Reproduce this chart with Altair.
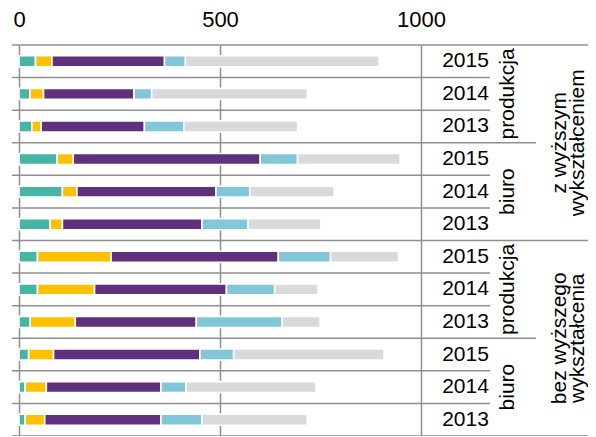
import altair as alt
import pandas as pd

# ---- data ----
edu_lines = [["z wyższym", "wykształceniem"], ["bez wyższego", "wykształcenia"]]
place = ["produkcja"] * 3 + ["biuro"] * 3 + ["produkcja"] * 3 + ["biuro"] * 3
years = ["2015", "2014", "2013"] * 4

seg_names = ["kat. 1", "kat. 2", "kat. 3", "kat. 4", "kat. 5"]
seg_colors = ["#47B5A6", "#FFC000", "#5F317C", "#82C7D9", "#D9D9D9"]

teal = [41, 27, 32, 95, 108, 77, 46, 46, 28, 24, 15, 15]
yellow = [41, 34, 23, 40, 36, 31, 183, 142, 112, 62, 53, 49]
purple = [280, 225, 257, 465, 346, 347, 416, 328, 301, 364, 285, 289]
lblue = [52, 44, 98, 93, 84, 115, 130, 120, 213, 84, 62, 102]
gray = [482, 387, 283, 255, 210, 181, 169, 108, 95, 374, 324, 262]
series = [teal, yellow, purple, lblue, gray]

tick_values = [0, 500, 1000]

# ---- layout constants ----
W, H = 569, 391
PX = 402 / 1000.0          # pixels per unit
XMAX = W / PX
def u(px):                 # pixel offset from the plot's left edge -> data units
    return px / PX

FONT = "Liberation Sans"

# ---- tables ----
rows = []
for r in range(12):
    start = 0
    for s, vals in enumerate(series):
        v = vals[r]
        rows.append({"row": r, "seg": seg_names[s], "idx": s,
                     "x0": start, "x1": start + v,
                     "y0": r + 0.33, "y1": r + 0.67})
        start += v
bars_df = pd.DataFrame(rows)

tot_df = pd.DataFrame({"row": list(range(12)),
                       "total": [sum(s[r] for s in series) for r in range(12)]})
tot_df["x0"] = 0
tot_df["y0"] = tot_df["row"] + 0.33
tot_df["y1"] = tot_df["row"] + 0.67

sep = []
for k in range(13):
    if k % 6 == 0:
        end = XMAX + 50
    elif k % 3 == 0:
        end = u(517)
    else:
        end = u(471)
    sep.append({"y": k, "xa": u(-7), "xb": end})
sep_df = pd.DataFrame(sep)

year_df = pd.DataFrame({"row": list(range(12)), "year": years})
year_df["y"] = year_df["row"] + 0.5
year_df["x"] = u(446.5)

place_df = pd.DataFrame({"label": [place[i] for i in (0, 3, 6, 9)],
                         "y": [1.5, 4.5, 7.5, 10.5]})
place_df["x"] = u(489)

edu_rows = []
for g, lines in enumerate(edu_lines):
    for li, txt in enumerate(lines):
        edu_rows.append({"label": txt, "y": 3 + 6 * g, "x": u(541 + 18 * li)})
edu_df = pd.DataFrame(edu_rows)

# ---- scales / axis ----
xs = alt.Scale(domain=[0, XMAX], nice=False, zero=False)
ys = alt.Scale(domain=[0, 12], reverse=True, nice=False, zero=False)
xaxis = alt.Axis(orient="top", values=tick_values, format="d", grid=True,
                 gridColor="#8f8f8f", gridWidth=1.5, domain=False,
                 ticks=False, tickSize=0, labelFontSize=22, labelFont=FONT,
                 labelColor="#000000", labelPadding=14, title=None,
                 labelFlush=False, labelOverlap=False)

def X(field):
    return alt.X(field, scale=xs, axis=xaxis)

def Y(field):
    return alt.Y(field, scale=ys, axis=None)

shadow = alt.Chart(tot_df).mark_bar(color="#000000", opacity=0.13, xOffset=2, yOffset=3).encode(
    x=X("x0:Q"), x2="total:Q", y=Y("y0:Q"), y2="y1:Q",
)

bars = alt.Chart(bars_df).mark_bar(stroke="white", strokeWidth=1.6).encode(
    x=X("x0:Q"), x2="x1:Q", y=Y("y0:Q"), y2="y1:Q",
    color=alt.Color("seg:N", scale=alt.Scale(domain=seg_names, range=seg_colors), legend=None),
    order=alt.Order("idx:Q"),
)

seps = alt.Chart(sep_df).mark_rule(color="#8f8f8f", strokeWidth=1.5).encode(
    x=X("xa:Q"), x2="xb:Q", y=Y("y:Q"),
)

yr = alt.Chart(year_df).mark_text(font=FONT, fontSize=21, color="#000000",
                                  align="center", baseline="middle").encode(
    x=X("x:Q"), y=Y("y:Q"), text="year:N",
)

pl = alt.Chart(place_df).mark_text(font=FONT, fontSize=21, color="#000000", angle=270,
                                   align="center", baseline="middle").encode(
    x=X("x:Q"), y=Y("y:Q"), text="label:N",
)

ed = alt.Chart(edu_df).mark_text(font=FONT, fontSize=21, color="#000000", angle=270,
                                 align="center", baseline="middle").encode(
    x=X("x:Q"), y=Y("y:Q"), text="label:N",
)

chart = alt.layer(shadow, bars, seps, yr, pl, ed).properties(
    width=W, height=H,
    autosize=alt.AutoSizeParams(type="none"),
    padding={"left": 11, "top": 37, "right": 0, "bottom": 0},
).configure_view(stroke=None)

chart.save("out.html", embed_options={"renderer": "svg", "actions": False})
